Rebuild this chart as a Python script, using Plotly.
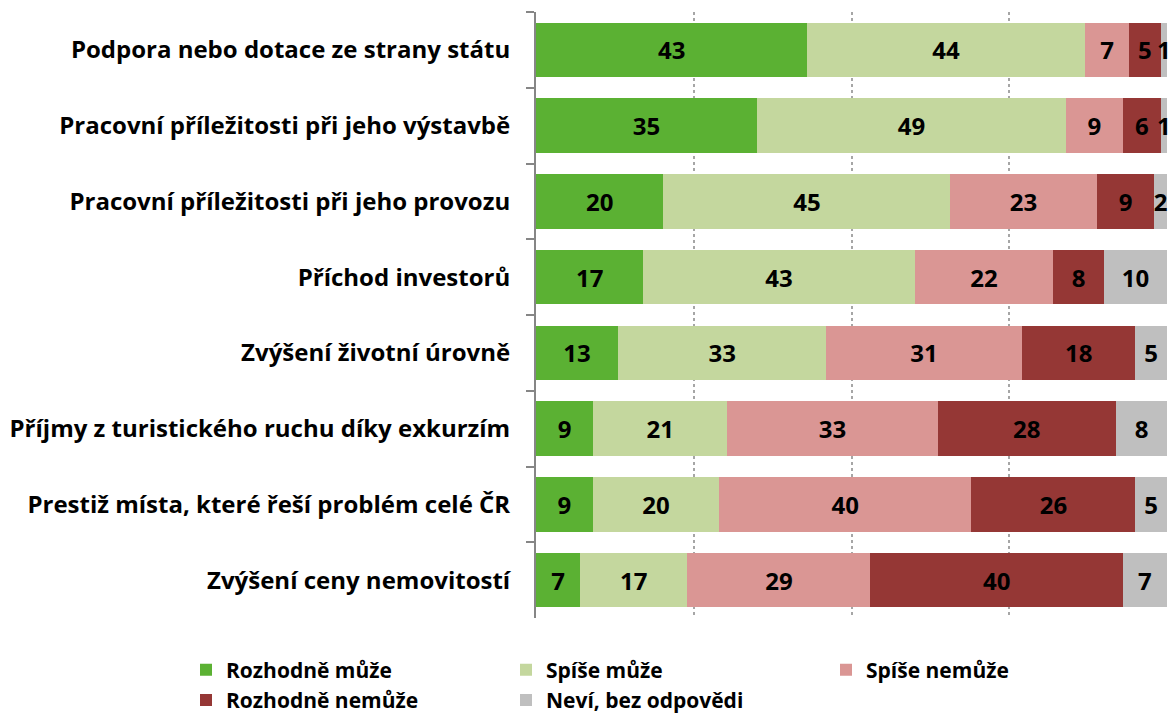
import plotly.graph_objects as go

# Survey items, top to bottom
categories = [
    "Podpora nebo dotace ze strany státu",
    "Pracovní příležitosti při jeho výstavbě",
    "Pracovní příležitosti při jeho provozu",
    "Příchod investorů",
    "Zvýšení životní úrovně",
    "Příjmy z turistického ruchu díky exkurzím",
    "Prestiž místa, které řeší problém celé ČR",
    "Zvýšení ceny nemovitostí",
]

series_names = [
    "Rozhodně může",
    "Spíše může",
    "Spíše nemůže",
    "Rozhodně nemůže",
    "Neví, bez odpovědi",
]

rozhodne_muze = [43, 35, 20, 17, 13, 9, 9, 7]
spise_muze = [44, 49, 45, 43, 33, 21, 20, 17]
spise_nemuze = [7, 9, 23, 22, 31, 33, 40, 29]
rozhodne_nemuze = [5, 6, 9, 8, 18, 28, 26, 40]
nevi = [1, 1, 2, 10, 5, 8, 5, 7]

series_values = [rozhodne_muze, spise_muze, spise_nemuze, rozhodne_nemuze, nevi]
colors = ["#5BB133", "#C4D79E", "#DA9694", "#953735", "#BFBFBF"]

FONT = "Open Sans"
PLOT_RIGHT_MARGIN = 5
PLOT_W = 1172 - PLOT_RIGHT_MARGIN

fig = go.Figure()
for name, vals, col in zip(series_names, series_values, colors):
    fig.add_trace(go.Bar(
        y=categories,
        x=vals,
        name=name,
        orientation="h",
        marker=dict(color=col, line=dict(width=0)),
        text=[str(v) for v in vals],
        textposition="inside",
        insidetextanchor="middle",
        textangle=0,
        cliponaxis=False,
        textfont=dict(family=FONT, size=24, color="#000000", weight="bold"),
        hoverinfo="skip",
    ))

fig.update_layout(
    width=1172,
    height=721,
    barmode="stack",
    barnorm="percent",
    bargap=0.28,
    paper_bgcolor="white",
    plot_bgcolor="white",
    margin=dict(l=0, r=PLOT_RIGHT_MARGIN, t=12, b=88),
    uniformtext=dict(minsize=24, mode="show"),
    font=dict(family=FONT, size=22, color="#000000"),
    xaxis=dict(
        domain=[536 / PLOT_W, 1],
        # a hair above 100 so rounding in the normalised stack never lands outside
        range=[0, 100.001],
        tickvals=[25, 50, 75, 100],
        showticklabels=False,
        showgrid=True,
        gridcolor="#A6A6A6",
        griddash="dot",
        gridwidth=1.5,
        zeroline=False,
        showline=False,
        fixedrange=True,
    ),
    yaxis=dict(
        categoryorder="array",
        categoryarray=categories,
        autorange="reversed",
        showline=True,
        linecolor="#868686",
        linewidth=2,
        ticks="outside",
        tickson="boundaries",
        ticklen=8,
        tickwidth=2,
        tickcolor="#868686",
        ticklabelstandoff=19,
        tickfont=dict(family=FONT, size=24, color="#000000", weight="bold"),
        showgrid=False,
        fixedrange=True,
    ),
    legend=dict(
        orientation="h",
        x=186 / PLOT_W,
        xanchor="left",
        y=-0.052,
        yanchor="top",
        entrywidth=275,
        entrywidthmode="pixels",
        traceorder="normal",
        font=dict(family=FONT, size=21, color="#000000", weight="bold"),
        bgcolor="rgba(0,0,0,0)",
    ),
    showlegend=True,
)

fig.write_html("out.html")
